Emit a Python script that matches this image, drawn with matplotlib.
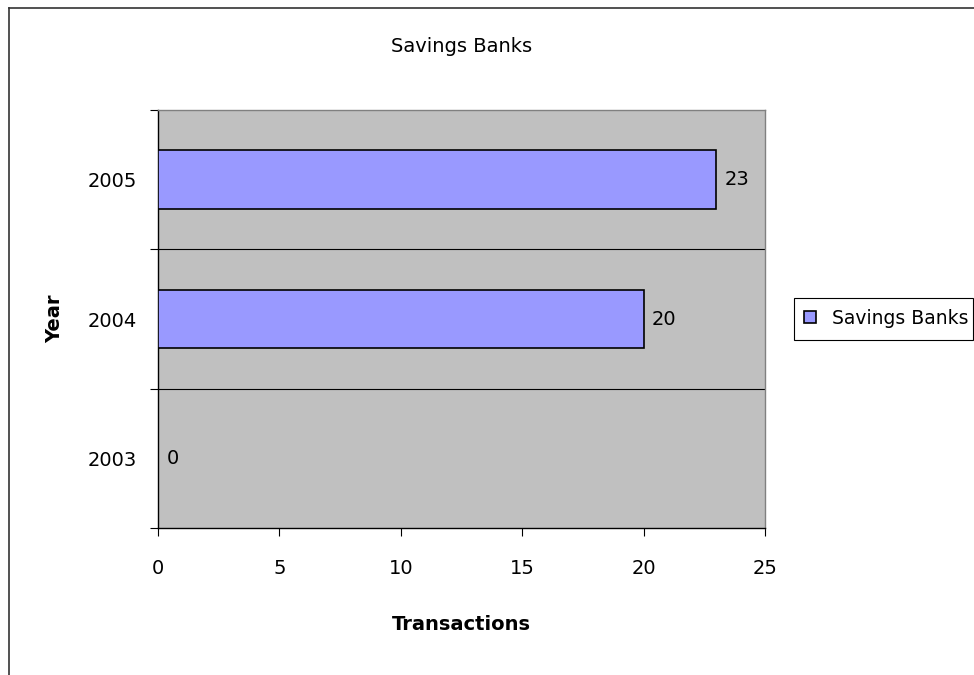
import numpy as np
import matplotlib
matplotlib.use('Agg')
import matplotlib.pyplot as plt
from matplotlib.lines import Line2D
from matplotlib.patches import Rectangle

# data
years = ['2003', '2004', '2005']
transactions = [0, 20, 23]
series_name = 'Savings Banks'
xticks = [0, 5, 10, 15, 20, 25]

plt.rcParams['font.family'] = ['DejaVu Sans']
FS = 14

W, H = 974, 675
fig = plt.figure(figsize=(W/100, H/100), dpi=100)
fig.patch.set_facecolor('white')

# plot area in pixels: x 158-765, y 110-528
L, R, T, B = 158, 765, 110, 528
ax = fig.add_axes([L/W, 1-B/H, (R-L)/W, (B-T)/H])
ax.set_facecolor('#C0C0C0')

pos = np.arange(len(years))
bars = ax.barh(pos, transactions, height=0.42, color='#9999FF',
               edgecolor='black', linewidth=1.2, label=series_name, zorder=3)

for p, v in zip(pos, transactions):
    ax.annotate(str(v), (v, p), xytext=(6, 0), textcoords='offset points',
                ha='left', va='center', fontsize=FS)

ax.set_xlim(0, 25)
ax.set_ylim(-0.5, len(years)-0.5)
ax.set_xticks(xticks)
ax.set_xticklabels([str(t) for t in xticks], fontsize=FS)

# tick marks at category boundaries, labels in the middle
ax.set_yticks(np.arange(len(years)+1)-0.5)
ax.set_yticklabels([])
ax.set_yticks(pos, minor=True)
ax.set_yticklabels(years, minor=True, fontsize=FS)
ax.tick_params(axis='y', which='minor', length=0, pad=15)
ax.tick_params(axis='y', which='major', length=6, width=0.8, direction='out')
ax.tick_params(axis='x', length=6, width=0.8, direction='out', pad=16)

# horizontal gridlines between categories
for g in pos[:-1] + 0.5:
    ax.axhline(g, color='black', linewidth=0.8, zorder=1)

for s in ['top', 'right']:
    ax.spines[s].set_color('#808080')
    ax.spines[s].set_linewidth(1.0)
for s in ['left', 'bottom']:
    ax.spines[s].set_color('black')
    ax.spines[s].set_linewidth(1.0)

ax.set_xlabel('Transactions', fontsize=FS, fontweight='bold')
ax.xaxis.set_label_coords(0.5, (B-615)/(B-T))
ax.set_ylabel('Year', fontsize=FS, fontweight='bold')
ax.yaxis.set_label_coords((64-L)/(R-L), 0.5)
ax.text(0.5, 1+(T-47)/(B-T), series_name, transform=ax.transAxes,
        ha='center', va='center', fontsize=FS)

# legend: entries from the bars, frame drawn separately
leg = ax.legend(loc='center left', bbox_to_anchor=(804/W, 1-318.5/H),
                bbox_transform=fig.transFigure, fontsize=13.5, frameon=False,
                handlelength=0.62, handleheight=0.62,
                handletextpad=0.85, borderpad=0, borderaxespad=0)
fig.add_artist(Rectangle((793.5/W, 1-339.5/H), 179/W, 42/H, fill=False,
                         edgecolor='black', linewidth=0.8,
                         transform=fig.transFigure))

# chart border (runs off the right and bottom of the image)
fig.add_artist(Line2D([8.5/W, 8.5/W], [0, 1-7.5/H], color='#333333',
                      linewidth=1.2, transform=fig.transFigure))
fig.add_artist(Line2D([8.5/W, 1], [1-7.5/H, 1-7.5/H], color='#333333',
                      linewidth=1.2, transform=fig.transFigure))

fig.savefig('out.png', dpi=100)
